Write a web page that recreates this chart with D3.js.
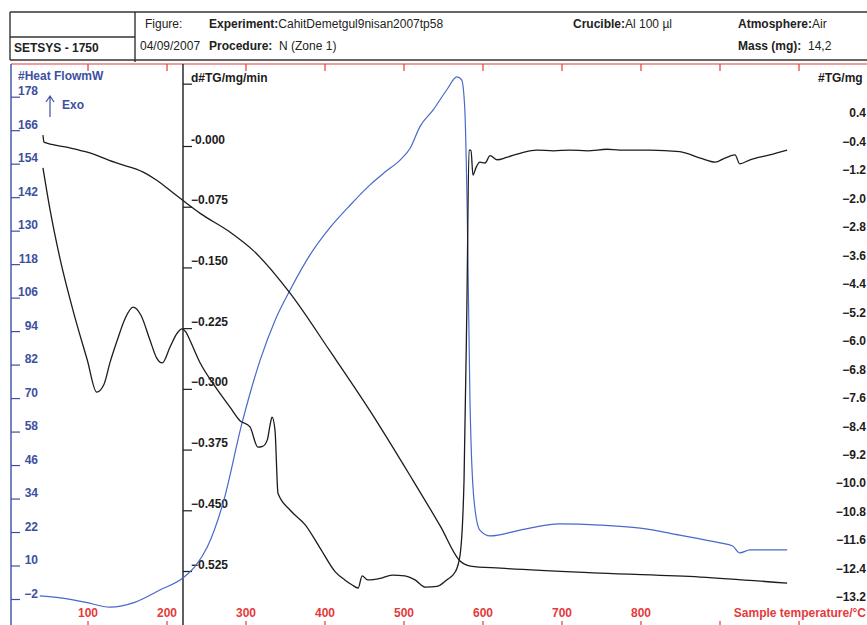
<!DOCTYPE html>
<html lang="en">
<head>
<meta charset="UTF-8">
<title>SETSYS - 1750 TG / DTG / Heat Flow</title>
<script src="https://d3js.org/d3.v7.min.js"></script>
<style>
    body { margin: 0; background: #fff; }
    svg { display: block; font-family: "Liberation Sans", Arial, sans-serif; }
    .hdr { font-size: 12px; fill: #222; }
    .lab { font-size: 12px; font-weight: bold; }
</style>
</head>
<body>
<svg width="867" height="625"></svg>
<script>
    // temperature ticks (°C)
    const tempTicks = [100, 200, 300, 400, 500, 600, 700, 800];
    const tempMarks = [100, 200, 300, 400, 500, 600, 700, 800, 900, 1000];
    const heatTicks = [-2, 10, 22, 34, 46, 58, 70, 82, 94, 106, 118, 130, 142, 154, 166, 178];
    const dtgTicks = [0, -0.075, -0.150, -0.225, -0.300, -0.375, -0.450, -0.525];
    const tgTicks = [0.4, -0.4, -1.2, -2.0, -2.8, -3.6, -4.4, -5.2, -6.0, -6.8, -7.6, -8.4, -9.2, -10.0, -10.8, -11.6, -12.4, -13.2];

    // heat flow (mW) vs temperature
    const heatFlow = [
        [39, -0.9], [65, -1.6], [96, -3.1], [128, -4.9], [160, -3.1], [191, 1.2], [220, 5.5],
        [235, 9.5], [251, 16.6], [271, 32.4], [295, 61.1], [318, 83.7], [337, 98.0], [356, 108.8],
        [381, 121.3], [406, 131.0], [432, 139.2], [457, 146.4], [476, 151.0], [495, 155.3],
        [508, 159.6], [520, 167.2], [537, 173.3], [554, 180.4], [567, 185.1], [573, 184.0],
        [577, 173.3], [580, 137.4], [583.5, 69.3], [588.6, 33.5], [596, 22.7], [609, 20.6],
        [647, 22.7], [697, 24.9], [748, 24.5], [799, 23.4], [849, 20.9], [900, 18.1],
        [916, 17.0], [925, 14.5], [938, 15.6], [985, 15.6]
    ];

    // TG (mg) vs temperature
    const tg = [
        [43, -0.22], [44.3, -0.42], [73, -0.56], [99, -0.70], [137, -1.01], [170, -1.26],
        [187, -1.49], [208, -1.85], [225, -2.14], [242, -2.42], [280, -2.95], [309, -3.46],
        [356, -4.67], [406, -6.28], [457, -7.97], [508, -9.80], [546, -11.21], [571, -12.19],
        [584, -12.33], [622, -12.39], [748, -12.53], [875, -12.64], [985, -12.81]
    ];

    // DTG (mg/min) vs temperature
    const dtg = [
        [43, -0.027], [52, -0.079], [65, -0.141], [81, -0.203], [99, -0.264], [111, -0.304],
        [120, -0.295], [128, -0.267], [137, -0.240], [147, -0.213], [157, -0.199], [167, -0.209],
        [178.5, -0.240], [187, -0.262], [194, -0.268], [204, -0.248], [213, -0.231], [219, -0.226],
        [224, -0.230], [229, -0.240], [242, -0.268], [258, -0.293], [280, -0.323], [292, -0.339],
        [305, -0.347], [315, -0.372], [321, -0.371], [327, -0.363], [330.4, -0.345], [333, -0.335],
        [336.7, -0.351], [340.5, -0.429], [356, -0.450], [375, -0.468], [394, -0.497],
        [413, -0.526], [425, -0.536], [434, -0.542], [442, -0.546], [447, -0.531], [454, -0.536],
        [470, -0.534], [485, -0.530], [501, -0.531], [514, -0.536], [527, -0.545], [542, -0.544],
        [554, -0.536], [565, -0.526], [571, -0.505], [576, -0.413], [579.7, -0.190],
        [582.3, -0.005], [584.8, -0.005], [587.3, -0.036], [591, -0.027], [596, -0.020],
        [602.5, -0.021], [609, -0.012], [618, -0.017], [630, -0.014], [647, -0.009],
        [668, -0.005], [689, -0.006], [710, -0.005], [732, -0.006], [757, -0.004], [773, -0.005],
        [811, -0.005], [849, -0.007], [875, -0.015], [894, -0.020], [906, -0.015], [919, -0.011],
        [925, -0.022], [938, -0.017], [963, -0.011], [985, -0.005]
    ];

    const svg = d3.select("svg");
    const W = 867, H = 625;
    const plotTop = 64;
    const blue = "#3d50a0", curveBlue = "#4a68c8", red = "#e43a3a", ink = "#1c1c1c";

    const x = d3.scaleLinear().domain([0, 1000]).range([9, 799]);
    const yHeat = d3.scaleLinear().domain([-2, 178]).range([599, 96.7]);
    const yDtg = d3.scaleLinear().domain([-0.525, 0]).range([571, 146]);
    const yTg = d3.scaleLinear().domain([-13.2, 0.4]).range([597, 113]);

    // ---- header box ----
    const hdr = svg.append("g").attr("stroke", "#333").attr("stroke-width", 1.4);
    hdr.append("line").attr("x1", 10).attr("x2", W).attr("y1", 12).attr("y2", 12);
    hdr.append("line").attr("x1", 10).attr("x2", W).attr("y1", 60).attr("y2", 60);
    hdr.append("line").attr("x1", 10).attr("x2", 10).attr("y1", 12).attr("y2", 60);
    hdr.append("line").attr("x1", 135).attr("x2", 135).attr("y1", 12).attr("y2", 62);
    hdr.append("line").attr("x1", 10).attr("x2", 135).attr("y1", 37).attr("y2", 37);

    function hdrText(xp, yp, bold, plain) {
        const t = svg.append("text").attr("class", "hdr").attr("x", xp).attr("y", yp)
            .attr("xml:space", "preserve");
        if (bold) t.append("tspan").attr("font-weight", "bold").text(bold);
        if (plain) t.append("tspan").text(plain);
    }
    hdrText(145, 28, null, "Figure:");
    hdrText(209, 28, "Experiment:", "CahitDemetgul9nisan2007tp58");
    hdrText(573, 28, "Crucible:", "Al 100 µl");
    hdrText(738, 28, "Atmosphere:", "Air");
    hdrText(14, 52, "SETSYS - 1750", null);
    hdrText(140, 50, null, "04/09/2007");
    hdrText(209, 50, "Procedure:", "  N (Zone 1)");
    hdrText(738, 50, "Mass (mg):", "  14,2");

    // ---- frame ----
    svg.append("line").attr("x1", 11).attr("x2", W).attr("y1", plotTop).attr("y2", plotTop)
        .attr("stroke", red).attr("stroke-width", 1.2);
    svg.append("g").selectAll("line").data(tempMarks).join("line")
        .attr("x1", d => x(d)).attr("x2", d => x(d)).attr("y1", plotTop).attr("y2", plotTop + 7)
        .attr("stroke", red).attr("stroke-width", 1.2);
    svg.append("line").attr("x1", 11).attr("x2", 11).attr("y1", plotTop).attr("y2", H)
        .attr("stroke", blue).attr("stroke-width", 1.4);
    svg.append("line").attr("x1", 183).attr("x2", 183).attr("y1", plotTop).attr("y2", H)
        .attr("stroke", ink).attr("stroke-width", 1.4);

    // ---- left axis: heat flow ----
    const gl = svg.append("g").attr("transform", "translate(11,0)")
        .call(d3.axisRight(yHeat).tickValues(heatTicks).tickSize(9).tickFormat(d3.format("d")));
    gl.select(".domain").remove();
    gl.attr("font-size", null).attr("font-family", null);
    gl.selectAll("line").attr("stroke", blue).attr("stroke-width", 1.2);
    gl.selectAll("text").attr("x", 27).attr("dy", "-2").attr("text-anchor", "end")
        .attr("fill", blue).attr("class", "lab");
    svg.append("text").attr("class", "lab").attr("x", 18).attr("y", 80).attr("fill", blue)
        .text("#Heat FlowmW");
    svg.append("path").attr("d", "M50,117 L50,97 M46,102 L50,96 L54,102")
        .attr("fill", "none").attr("stroke", blue).attr("stroke-width", 1.2);
    svg.append("text").attr("class", "lab").attr("x", 62).attr("y", 109).attr("fill", blue).text("Exo");

    // ---- middle axis: DTG ----
    const gm = svg.append("g").attr("transform", "translate(183,0)")
        .call(d3.axisRight(yDtg).tickValues(dtgTicks.concat([0.077])).tickSize(9)
            .tickFormat(d => d > 0 ? "" : (d === 0 ? "-0.000" : d3.format(".3f")(d))));
    gm.select(".domain").remove();
    gm.attr("font-size", null).attr("font-family", null);
    gm.selectAll("line").attr("stroke", ink).attr("stroke-width", 1.2);
    gm.selectAll("text").attr("x", 8).attr("dy", "-3").attr("text-anchor", "start")
        .attr("fill", ink).attr("class", "lab");
    svg.append("text").attr("class", "lab").attr("x", 191).attr("y", 82).attr("fill", ink)
        .text("d#TG/mg/min");

    // ---- right axis: TG ----
    const gr = svg.append("g").attr("transform", "translate(866,0)")
        .call(d3.axisLeft(yTg).tickValues(tgTicks).tickSize(0).tickFormat(d3.format(".1f")));
    gr.select(".domain").remove();
    gr.attr("font-size", null).attr("font-family", null);
    gr.selectAll("text").attr("x", 0).attr("text-anchor", "end")
        .attr("fill", ink).attr("class", "lab");
    svg.append("text").attr("class", "lab").attr("x", 818).attr("y", 82).attr("fill", ink).text("#TG/mg");

    // ---- bottom axis: temperature ----
    svg.append("g").selectAll("text").data(tempTicks).join("text")
        .attr("class", "lab").attr("x", d => x(d)).attr("y", 617)
        .attr("text-anchor", "middle").attr("fill", red).text(d => d);
    svg.append("g").selectAll("line").data(tempMarks).join("line")
        .attr("x1", d => x(d)).attr("x2", d => x(d)).attr("y1", 621).attr("y2", H)
        .attr("stroke", red).attr("stroke-width", 1.2);
    svg.append("text").attr("class", "lab").attr("x", 866).attr("y", 617)
        .attr("text-anchor", "end").attr("fill", red).text("Sample temperature/°C");

    // ---- curves ----
    const lineOf = y => d3.line().x(d => x(d[0])).y(d => y(d[1])).curve(d3.curveMonotoneX);
    svg.append("path").datum(heatFlow).attr("d", lineOf(yHeat))
        .attr("fill", "none").attr("stroke", curveBlue).attr("stroke-width", 1.2);
    svg.append("path").datum(tg).attr("d", lineOf(yTg))
        .attr("fill", "none").attr("stroke", ink).attr("stroke-width", 1.3);
    svg.append("path").datum(dtg).attr("d", lineOf(yDtg))
        .attr("fill", "none").attr("stroke", ink).attr("stroke-width", 1.3);
</script>
</body>
</html>
